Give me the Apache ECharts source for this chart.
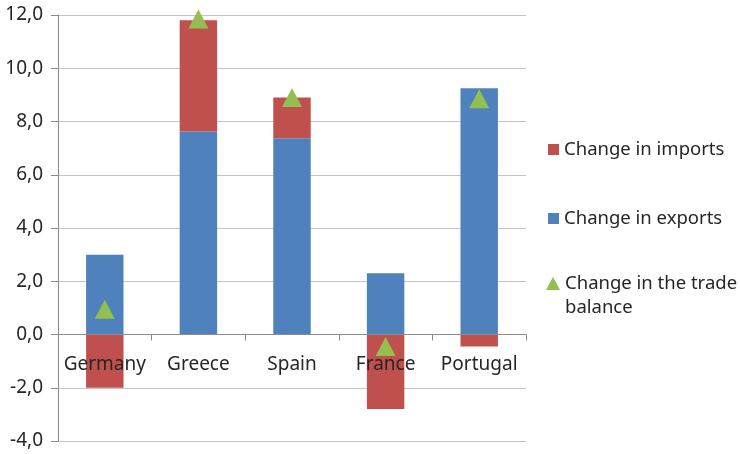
<!DOCTYPE html>
<html>
<head>
<meta charset="UTF-8">
<title>Trade balance change</title>
<style>
html,body{margin:0;padding:0;background:#fff;}
#main{width:740px;height:454px;}
</style>
</head>
<body>
<div id="main"></div>
<script src="https://cdn.jsdelivr.net/npm/echarts@6/dist/echarts.min.js"></script>
<script>
var countries = ['Germany', 'Greece', 'Spain', 'France', 'Portugal'];
var exportsChange = [3.0, 7.62, 7.37, 2.3, 9.25];
var importsChange = [-2.0, 4.18, 1.53, -2.8, -0.45];
var balanceChange = [0.95, 11.85, 8.9, -0.45, 8.85];
var yTicks = [-4, 12, 2];

var font = 'Noto Sans';
var txt = '#262626';

var chart = echarts.init(document.getElementById('main'));

chart.setOption({
	animation: false,
	textStyle: {fontFamily: font},
	grid: {left: 58, right: 214, top: 15, bottom: 13, outerBoundsMode: 'none'},
	legend: [
		{
			data: ['Change in imports'], orient: 'vertical', left: 543, top: 135,
			icon: 'rect', itemWidth: 11, itemHeight: 11,
			textStyle: {fontFamily: font, fontSize: 18.5, color: txt}
		},
		{
			data: ['Change in exports'], orient: 'vertical', left: 543, top: 204,
			icon: 'rect', itemWidth: 11, itemHeight: 11,
			textStyle: {fontFamily: font, fontSize: 18.5, color: txt}
		},
		{
			data: ['Change in the trade balance'], orient: 'vertical', left: 541, top: 269,
			icon: 'triangle', itemWidth: 14, itemHeight: 13,
			formatter: function () { return 'Change in the trade'; },
			textStyle: {fontFamily: font, fontSize: 18.5, color: txt}
		}
	],
	graphic: [
		{type: 'text', x: 565, y: 298, style: {text: 'balance', font: '18.5px "Noto Sans"', fill: txt}}
	],
	xAxis: {
		type: 'category',
		data: countries,
		z: 5,
		axisLine: {onZero: true, lineStyle: {color: '#8c8c8c', width: 1}},
		axisTick: {show: true, length: 6, lineStyle: {color: '#8c8c8c'}},
		axisLabel: {margin: -86, fontSize: 19, color: txt, fontFamily: font, interval: 0},
		splitLine: {show: false}
	},
	yAxis: {
		type: 'value',
		min: yTicks[0], max: yTicks[1], interval: yTicks[2],
		axisLine: {show: true, lineStyle: {color: '#8c8c8c', width: 1}},
		axisTick: {show: true, length: 7, lineStyle: {color: '#8c8c8c'}},
		axisLabel: {
			margin: 15, fontSize: 19, color: txt, fontFamily: font,
			formatter: function (v) { return v.toFixed(1).replace('.', ','); }
		},
		splitLine: {show: true, lineStyle: {color: '#c4c4c4', width: 1}}
	},
	series: [
		{
			name: 'Change in exports', type: 'bar', stack: 'trade',
			barWidth: '40%', data: exportsChange,
			itemStyle: {color: '#4f81bd'}
		},
		{
			name: 'Change in imports', type: 'bar', stack: 'trade',
			barWidth: '40%', data: importsChange,
			itemStyle: {color: '#c0504d'}
		},
		{
			name: 'Change in the trade balance', type: 'scatter',
			symbol: 'triangle', symbolSize: [20, 19], z: 6,
			data: balanceChange,
			itemStyle: {color: '#92bf4f', opacity: 1}
		}
	]
});
</script>
</body>
</html>
